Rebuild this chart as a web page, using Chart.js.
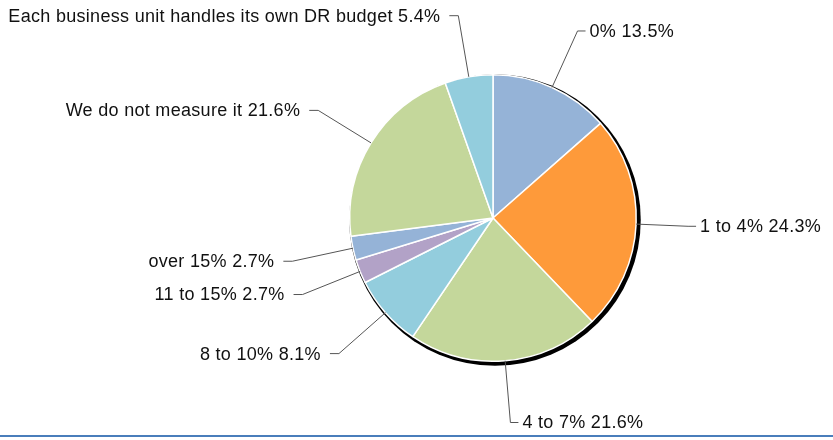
<!DOCTYPE html>
<html>
<head>
<meta charset="utf-8">
<script src="https://cdn.jsdelivr.net/npm/chart.js@4.4.1/dist/chart.umd.min.js"></script>
<style>
  html, body { margin: 0; padding: 0; background: #fff; }
  #wrap { width: 833px; height: 440px; position: relative; }
</style>
</head>
<body>
<div id="wrap"><canvas id="myChart" width="833" height="440"></canvas></div>
<script>
// slice names and shares, clockwise from the top
const categories = ['0%', '1 to 4%', '4 to 7%', '8 to 10%', '11 to 15%', 'over 15%', 'We do not measure it', 'Each business unit handles its own DR budget'];
const shares = [13.5, 24.3, 21.6, 8.1, 2.7, 2.7, 21.6, 5.4];
const sliceColors = ['#95b3d7', '#fe9a3a', '#c4d79b', '#93cddd', '#b2a2c7', '#95b3d7', '#c4d79b', '#93cddd'];

// black drop shadow behind the pie
const shadowPlugin = {
  id: 'shadow',
  beforeDatasetsDraw(chart) {
    const arc = chart.getDatasetMeta(0).data[0];
    if (!arc) return;
    const ctx = chart.ctx;
    ctx.save();
    ctx.fillStyle = '#000';
    ctx.beginPath();
    ctx.arc(arc.x + 2, arc.y + 2, arc.outerRadius + 2.5, 0, Math.PI * 2);
    ctx.fill();
    ctx.restore();
  }
};

// labels outside the pie with leader lines
const outsideLabels = {
  id: 'outsideLabels',
  afterDatasetsDraw(chart) {
    const ctx = chart.ctx;
    const meta = chart.getDatasetMeta(0);
    ctx.save();
    ctx.font = '18px "Liberation Sans", Arial, sans-serif';
    ctx.letterSpacing = '0.3px';
    ctx.textBaseline = 'middle';
    meta.data.forEach((arc, i) => {
      const mid = (arc.startAngle + arc.endAngle) / 2;
      const cos = Math.cos(mid), sin = Math.sin(mid);
      const r = arc.outerRadius;
      // right-hand labels sit a little closer in
      const reach = cos > 0.9 ? 52 : 62;
      const x0 = arc.x + cos * r, y0 = arc.y + sin * r;
      const x1 = arc.x + cos * (r + reach), y1 = arc.y + sin * (r + reach);
      const right = x1 >= arc.x;
      const x2 = x1 + (right ? 8 : -9);
      ctx.strokeStyle = '#555';
      ctx.lineWidth = 1;
      ctx.beginPath();
      ctx.moveTo(x0, y0);
      ctx.lineTo(x1, y1);
      ctx.lineTo(x2, y1);
      ctx.stroke();
      ctx.fillStyle = '#111';
      ctx.textAlign = right ? 'left' : 'right';
      const text = categories[i] + ' ' + shares[i].toFixed(1) + '%';
      ctx.fillText(text, x2 + (right ? 4 : -9), y1 + 1);
    });
    // blue rule along the bottom
    ctx.fillStyle = '#4a7ebb';
    ctx.fillRect(0, 435, chart.width, 2);
    ctx.restore();
  }
};

const ctx = document.getElementById('myChart').getContext('2d');
const chart = new Chart(ctx, {
  type: 'pie',
  data: {
    labels: categories,
    datasets: [{
      data: shares,
      backgroundColor: sliceColors,
      borderColor: '#fff',
      borderWidth: 1.5
    }]
  },
  options: {
    responsive: false,
    animation: false,
    layout: {
      padding: { left: 349, right: 196, top: 74, bottom: 78 }
    },
    plugins: {
      legend: { display: false },
      tooltip: { enabled: false }
    }
  },
  plugins: [shadowPlugin, outsideLabels]
});
</script>
</body>
</html>
